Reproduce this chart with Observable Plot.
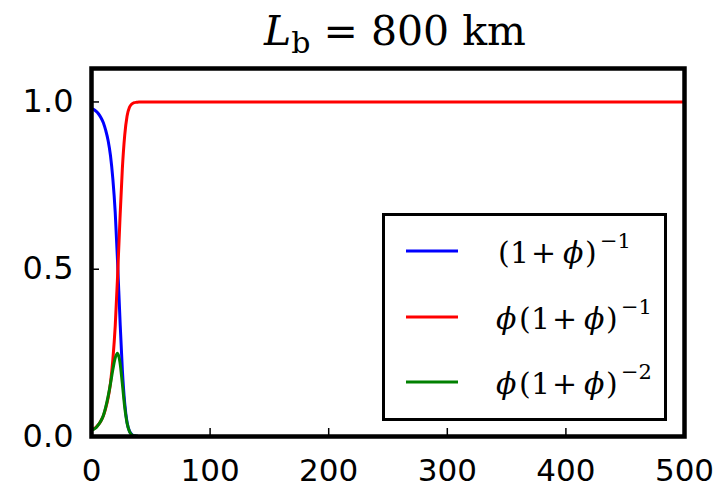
<!DOCTYPE html>
<html>
<head>
<meta charset="utf-8">
<script src="https://cdn.jsdelivr.net/npm/d3@7"></script>
<script src="https://cdn.jsdelivr.net/npm/@observablehq/plot@0.6"></script>
<style>
  html, body { margin: 0; padding: 0; background: white; }
  #wrap { position: relative; width: 719px; height: 490px; overflow: hidden; }
  #wrap > svg { position: absolute; left: 0; top: 0; }
</style>
</head>
<body>
<div id="wrap"></div>
<script>
// ---- data ----
const xValues = [0, 2, 4, 6, 8, 10, 12, 14, 16, 18, 20, 22, 24, 26, 28, 30, 32, 34, 36, 38, 40, 50, 100, 200, 300, 400, 500];
const blueValues  = [0.980, 0.977, 0.972, 0.964, 0.953, 0.938, 0.915, 0.885, 0.840, 0.770, 0.670, 0.520, 0.350, 0.200, 0.100, 0.042, 0.016, 0.006, 0.002, 0.001, 0, 0, 0, 0, 0, 0, 0];
const redValues   = [0.020, 0.023, 0.028, 0.036, 0.047, 0.062, 0.085, 0.115, 0.160, 0.230, 0.330, 0.480, 0.650, 0.800, 0.900, 0.958, 0.984, 0.994, 0.998, 0.999, 1, 1, 1, 1, 1, 1, 1];
const greenValues = [0.018, 0.022, 0.027, 0.036, 0.047, 0.063, 0.088, 0.120, 0.158, 0.200, 0.235, 0.249, 0.222, 0.158, 0.088, 0.040, 0.015, 0.005, 0.002, 0.001, 0, 0, 0, 0, 0, 0, 0];
const seriesNames = ["(1+ϕ)^-1", "ϕ(1+ϕ)^-1", "ϕ(1+ϕ)^-2"];
const seriesColors = ["#0000ff", "#ff0000", "#008000"];
const supLabels = ["−1", "−1", "−2"];
const xTicks = [0, 100, 200, 300, 400, 500];
const yTicks = [0, 0.5, 1.0];
const titleMain = "L";
const titleSub = "b";
const titleRest = " = 800 km";

// ---- table for Plot ----
const allSeries = [blueValues, redValues, greenValues];
const rows = [];
allSeries.forEach((vals, s) => {
  xValues.forEach((x, i) => rows.push({x, y: vals[i], series: seriesNames[s]}));
});

const W = 719, H = 490;
const mL = 91, mR = 35, mT = 68, mB = 54;
const innerW = W - mL - mR, innerH = H - mT - mB;
const tickLen = 8;

const chart = Plot.plot({
  width: W, height: H,
  marginLeft: mL, marginRight: mR, marginTop: mT, marginBottom: mB,
  style: {fontFamily: "DejaVu Sans", color: "black", background: "white"},
  x: {domain: [0, 500], label: null},
  y: {domain: [0, 1.1], label: null},
  color: {domain: seriesNames, range: seriesColors},
  marks: [
    Plot.axisX({ticks: xTicks, tickSize: 0, tickPadding: 22, fontSize: 31, label: null, tickFormat: d => String(d)}),
    Plot.axisY({ticks: yTicks, tickSize: 0, tickPadding: 18, fontSize: 32, label: null, tickFormat: d3.format(".1f")}),
    Plot.tickX(xTicks.slice(1, -1), {x: d => d, stroke: "black", strokeWidth: 1.5, insetTop: innerH - tickLen}),
    Plot.tickY(yTicks.slice(1), {y: d => d, stroke: "black", strokeWidth: 1.5, insetRight: innerW - tickLen}),
    Plot.line(rows, {x: "x", y: "y", z: "series", stroke: "series", strokeWidth: 3, curve: "monotone-x"}),
    Plot.frame({stroke: "black", strokeWidth: 4.5})
  ]
});

const wrap = document.getElementById("wrap");
wrap.appendChild(chart);

// ---- overlay: title and legend ----
const ns = "http://www.w3.org/2000/svg";
const ov = d3.select(wrap).append("svg")
  .attr("xmlns", ns).attr("width", W).attr("height", H)
  .style("position", "absolute").style("left", 0).style("top", 0);

// title
const t = ov.append("text").attr("x", 395).attr("y", 45)
  .attr("text-anchor", "middle")
  .style("font-family", "DejaVu Serif").style("font-size", "41px").attr("fill", "black");
t.append("tspan").style("font-style", "italic").text(titleMain);
t.append("tspan").attr("dy", 8).style("font-size", "30px").text(titleSub);
t.append("tspan").attr("dy", -8).text(titleRest);

// legend box
ov.append("rect").attr("x", 383.5).attr("y", 214.5).attr("width", 282).attr("height", 205)
  .attr("fill", "white").attr("stroke", "black").attr("stroke-width", 3);

const rowY = [251, 317, 382];
const font = "DejaVu Serif";
seriesColors.forEach((c, i) => {
  const y = rowY[i];
  ov.append("line").attr("x1", 406).attr("x2", 458).attr("y1", y).attr("y2", y)
    .attr("stroke", c).attr("stroke-width", 3);
  const base = y + 12;
  const g = ov.append("g").style("font-family", font).style("font-size", "30px").attr("fill", "black");
  let off = 0;
  if (i > 0) {
    g.append("text").attr("x", 496).attr("y", base).style("font-style", "italic").text("ϕ");
    off = 21;
  }
  g.append("text").attr("x", 498 + off).attr("y", base).text("(");
  g.append("text").attr("x", 510 + off).attr("y", base).text("1");
  g.append("text").attr("x", 531 + off).attr("y", base).text("+");
  g.append("text").attr("x", 563 + off).attr("y", base).style("font-style", "italic").text("ϕ");
  g.append("text").attr("x", 585 + off).attr("y", base).text(")");
  g.append("text").attr("x", 600 + off).attr("y", base - 15).style("font-size", "21px").text(supLabels[i]);
});
</script>
</body>
</html>
